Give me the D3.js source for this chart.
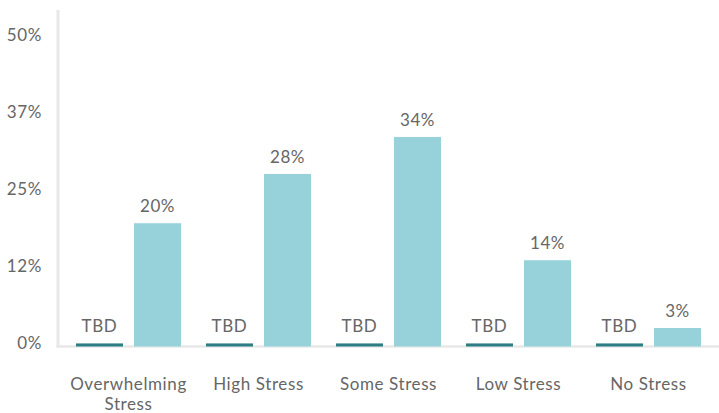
<!DOCTYPE html>
<html>
<head>
<meta charset="utf-8">
<script src="https://cdn.jsdelivr.net/npm/d3@7"></script>
<style>
  html, body { margin: 0; padding: 0; background: #fff; }
  svg { display: block; }
  text { font-family: Lato, "Open Sans", sans-serif; fill: #666; letter-spacing: 0.6px; }
</style>
</head>
<body>
<svg id="chart" width="719" height="413"></svg>
<script>
// Stress level categories (x axis)
const categories = ["Overwhelming Stress", "High Stress", "Some Stress", "Low Stress", "No Stress"];
// First series: results not yet available, drawn as a thin stub
const pendingValues = [0.5, 0.5, 0.5, 0.5, 0.5];
const pendingLabels = ["TBD", "TBD", "TBD", "TBD", "TBD"];
// Second series: share of respondents (%)
const actualValues = [20, 28, 34, 14, 3];
// Y axis ticks and their labels
const tickValues = [0, 12.5, 25, 37.5, 50];
const tickLabels = ["0%", "12%", "25%", "37%", "50%"];

const seriesKeys = ["pending", "actual"];
const seriesColors = { pending: "#2f7d84", actual: "#97d1d9" };

const svg = d3.select("#chart");
const axisLeftX = 58;
const baseY = 346.5;

const x = d3.scaleBand()
  .domain(categories)
  .range([63.5, 713.5])
  .paddingInner(0.1923)
  .paddingOuter(0.0962);

const xSub = d3.scaleBand()
  .domain(seriesKeys)
  .range([0, x.bandwidth()])
  .paddingInner(0.19);

const y = d3.scaleLinear()
  .domain([0, 54.6])
  .range([baseY, 10]);

// Axis lines
svg.append("line")
  .attr("x1", axisLeftX).attr("x2", axisLeftX)
  .attr("y1", y(54.6)).attr("y2", baseY + 1)
  .attr("stroke", "#e8e8e8").attr("stroke-width", 3);
svg.append("line")
  .attr("x1", axisLeftX - 1.5).attr("x2", 719)
  .attr("y1", baseY).attr("y2", baseY)
  .attr("stroke", "#e8e8e8").attr("stroke-width", 2.5);

// Y tick labels
svg.append("g")
  .selectAll("text")
  .data(tickValues)
  .join("text")
  .attr("x", 42)
  .attr("y", d => y(d) - 3.5)
  .attr("dy", "0.35em")
  .attr("text-anchor", "end")
  .attr("font-size", 17)
  .text((d, i) => tickLabels[i]);

const rows = categories.map((c, i) => ({
  category: c,
  items: [
    { key: "pending", value: pendingValues[i], label: pendingLabels[i] },
    { key: "actual", value: actualValues[i], label: actualValues[i] + "%" }
  ]
}));

const groups = svg.append("g")
  .selectAll("g")
  .data(rows)
  .join("g")
  .attr("transform", d => `translate(${x(d.category)},0)`);

groups.selectAll("rect")
  .data(d => d.items)
  .join("rect")
  .attr("x", d => xSub(d.key))
  .attr("width", xSub.bandwidth())
  .attr("y", d => y(d.value))
  .attr("height", d => baseY - y(d.value))
  .attr("fill", d => seriesColors[d.key]);

groups.selectAll("text.value")
  .data(d => d.items)
  .join("text")
  .attr("class", "value")
  .attr("x", d => xSub(d.key) + xSub.bandwidth() / 2)
  .attr("y", d => y(d.value) - 17)
  .attr("dy", "0.35em")
  .attr("text-anchor", "middle")
  .attr("font-size", 17)
  .text(d => d.label);

// Category labels, wrapped onto two lines where needed
const catLabels = svg.append("g")
  .selectAll("text")
  .data(categories)
  .join("text")
  .attr("x", d => x(d) + x.bandwidth() / 2)
  .attr("y", 384)
  .attr("text-anchor", "middle")
  .attr("font-size", 17);

catLabels.each(function(d) {
  const t = d3.select(this);
  const cx = x(d) + x.bandwidth() / 2;
  const lines = d === "Overwhelming Stress" ? ["Overwhelming", "Stress"] : [d];
  lines.forEach((ln, i) => {
    t.append("tspan").attr("x", cx).attr("dy", i === 0 ? "0.35em" : "1.2em").text(ln);
  });
});
</script>
</body>
</html>
